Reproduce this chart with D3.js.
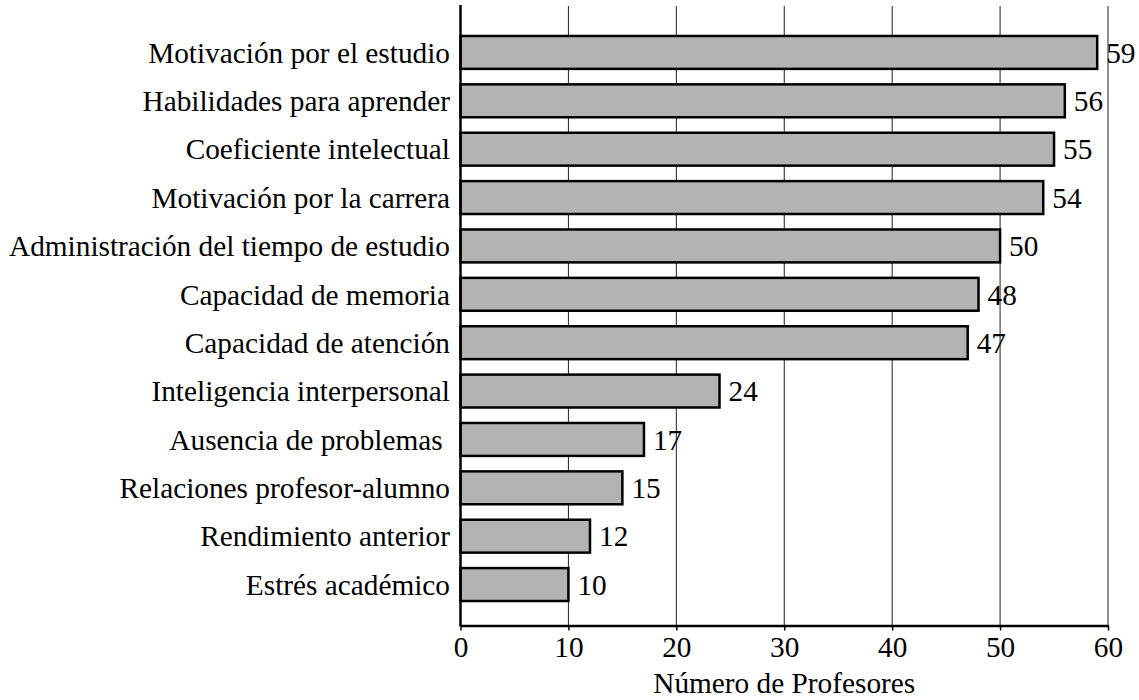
<!DOCTYPE html>
<html><head><meta charset="utf-8">
<script src="https://cdn.jsdelivr.net/npm/d3@7"></script>
<style>body{margin:0;background:#fff}svg text{font-family:"Liberation Serif","Times New Roman",serif;white-space:pre}</style>
</head><body><svg id="c" width="1139" height="700"></svg>
<script>
const categories = ["Motivación por el estudio","Habilidades para aprender","Coeficiente intelectual","Motivación por la carrera","Administración del tiempo de estudio","Capacidad de memoria","Capacidad de atención","Inteligencia interpersonal","Ausencia de problemas ","Relaciones profesor-alumno","Rendimiento anterior","Estrés académico"];
const values = [59,56,55,54,50,48,47,24,17,15,12,10];
const tickValues = [0,10,20,30,40,50,60];
const xTitle = "Número de Profesores";

const svg = d3.select("#c");
const x0 = 460.5, x1 = 1108, yTop = 5, yBot = 625.5;
const x = d3.scaleLinear().domain([0,60]).range([x0,x1]);
const y = d3.scaleBand().domain(categories).range([11.8,625.2]).paddingInner(0.32).paddingOuter(0.5);
const fs = 29.3;

// grid
svg.append("g").selectAll("line").data(tickValues.filter(d=>d>0)).join("line")
  .attr("x1",d=>x(d)).attr("x2",d=>x(d)).attr("y1",6).attr("y2",yBot)
  .attr("stroke","#222").attr("stroke-width",1);

// bars
svg.append("g").selectAll("rect").data(values).join("rect")
  .attr("x",x(0)).attr("y",(d,i)=>y(categories[i]))
  .attr("width",d=>x(d)-x(0)).attr("height",y.bandwidth())
  .attr("fill","#b3b3b3").attr("stroke","#000").attr("stroke-width",2.5);

// value labels
svg.append("g").selectAll("text").data(values).join("text")
  .attr("x",d=>x(d)+9).attr("y",(d,i)=>y(categories[i])+y.bandwidth()/2)
  .attr("dy","0.35em").style("font-size",fs+"px").text(d=>d);

// category labels
svg.append("g").selectAll("text").data(categories).join("text")
  .attr("x",450).attr("y",d=>y(d)+y.bandwidth()/2).attr("dy","0.35em")
  .attr("text-anchor","end").style("font-size",fs+"px").text(d=>d);

// axes
const xa = svg.append("g").attr("transform",`translate(0,${yBot})`)
  .call(d3.axisBottom(x).tickValues(tickValues).tickSize(5).tickSizeOuter(0).tickPadding(6));
xa.select(".domain").attr("stroke","#000").attr("stroke-width",2.5);
xa.selectAll(".tick line").attr("stroke","#000").attr("stroke-width",1.5);
xa.selectAll(".tick text").style("font-size",fs+"px").attr("fill","#000");

svg.append("line").attr("x1",x0).attr("x2",x0).attr("y1",yTop).attr("y2",yBot+1)
  .attr("stroke","#000").attr("stroke-width",2.5);

svg.append("text").attr("x",(x0+x1)/2).attr("y",693).attr("text-anchor","middle")
  .style("font-size",fs+"px").text(xTitle);
</script></body></html>
